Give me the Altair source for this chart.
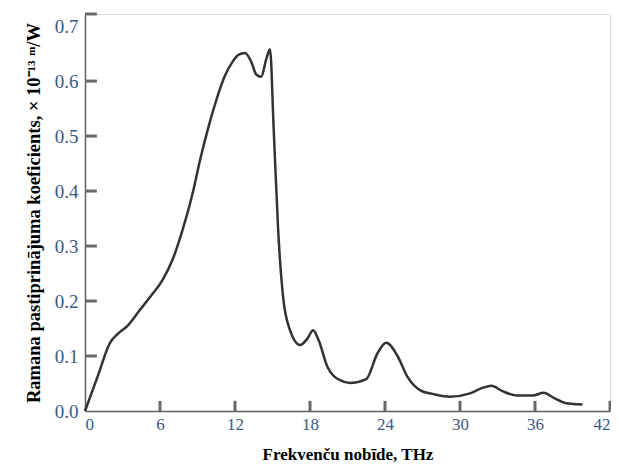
import altair as alt
import pandas as pd

freq = [0, 1, 2, 2.6, 3.4, 4.4, 5.3, 6.2, 7.0, 7.8, 8.6, 9.2, 9.8, 10.5, 11.2, 11.8,
        12.3, 12.8, 13.3, 13.7, 14.1, 14.5, 14.8, 15.1, 15.45, 15.85, 16.4, 17.2, 17.8,
        18.25, 18.7, 19.4, 20.4, 21.2, 22.5, 23.4, 24.1, 25.0, 25.8, 26.8, 28.0, 29.2,
        30.8, 31.8, 32.5, 33.4, 34.6, 35.8, 36.7, 37.5, 38.5, 39.8]
gain = [0, 0.062, 0.124, 0.14, 0.155, 0.184, 0.21, 0.238, 0.275, 0.329, 0.395, 0.456,
        0.51, 0.565, 0.61, 0.635, 0.648, 0.651, 0.635, 0.612, 0.608, 0.64, 0.658, 0.51,
        0.33, 0.207, 0.147, 0.12, 0.132, 0.147, 0.128, 0.08, 0.056, 0.051, 0.058, 0.105,
        0.124, 0.10, 0.062, 0.038, 0.03, 0.026, 0.032, 0.042, 0.046, 0.036, 0.028, 0.028,
        0.033, 0.024, 0.014, 0.012]

x_ticks = [6, 12, 18, 24, 30, 36, 42]
y_ticks = [0.1, 0.2, 0.3, 0.4, 0.5, 0.6, 0.722]
x_labels = [0, 6, 12, 18, 24, 30, 36, 42]
y_labels = [0.0, 0.1, 0.2, 0.3, 0.4, 0.5, 0.6, 0.7]

X_MAX = 42
Y_MAX = 0.722
XTICK_LEN = 0.0185
YTICK_LEN = 0.95

df = pd.DataFrame({"f": freq, "g": gain})
ticks = pd.DataFrame({
    "xa": x_ticks + [0.0] * len(y_ticks),
    "xb": x_ticks + [YTICK_LEN] * len(y_ticks),
    "ya": [0.0] * len(x_ticks) + y_ticks,
    "yb": [XTICK_LEN] * len(x_ticks) + y_ticks,
})

label_color = "#3c5785"
axis_color = "#606060"
font = "Liberation Serif"

xscale = alt.Scale(domain=[0, X_MAX], nice=False)
yscale = alt.Scale(domain=[0, Y_MAX], nice=False)

xaxis = alt.Axis(values=x_labels, ticks=False, grid=False, domainColor=axis_color,
                 domainWidth=1.5, labelColor=label_color, labelFont=font,
                 labelFontSize=17, labelPadding=5,
                 title="Frekvenču nobīde, THz", titleFont=font, titleFontSize=17,
                 titleFontWeight="bold", titleColor="black", titlePadding=14)
yaxis = alt.Axis(values=y_labels, ticks=False, grid=False, domainColor=axis_color,
                 domainWidth=1.5, labelColor=label_color, labelFont=font,
                 labelFontSize=19, labelPadding=7, format=".1f",
                 title="Ramana pastiprinājuma koeficients, × 10⁻¹³ ᵐ/W",
                 titleFont=font, titleFontSize=18.5, titleFontWeight="bold",
                 titleColor="black", titlePadding=11)

tick_layer = alt.Chart(ticks).mark_rule(color="dimgray", strokeWidth=3).encode(
    x=alt.X("xa:Q", scale=xscale, axis=xaxis),
    x2="xb:Q",
    y=alt.Y("ya:Q", scale=yscale, axis=yaxis),
    y2="yb:Q",
)

line = alt.Chart(df).mark_line(interpolate="monotone", color="#333333", strokeWidth=2.5).encode(
    x=alt.X("f:Q", scale=xscale, axis=xaxis),
    y=alt.Y("g:Q", scale=yscale, axis=yaxis),
)

chart = alt.layer(tick_layer, line).properties(
    width=525, height=397,
    autosize=alt.AutoSizeParams(type="none"),
    padding={"left": 77, "top": 6, "right": 1, "bottom": 58},
).configure_view(stroke=None).configure(background="white")

chart.save("out.html", embed_options={"renderer": "svg", "actions": False})
